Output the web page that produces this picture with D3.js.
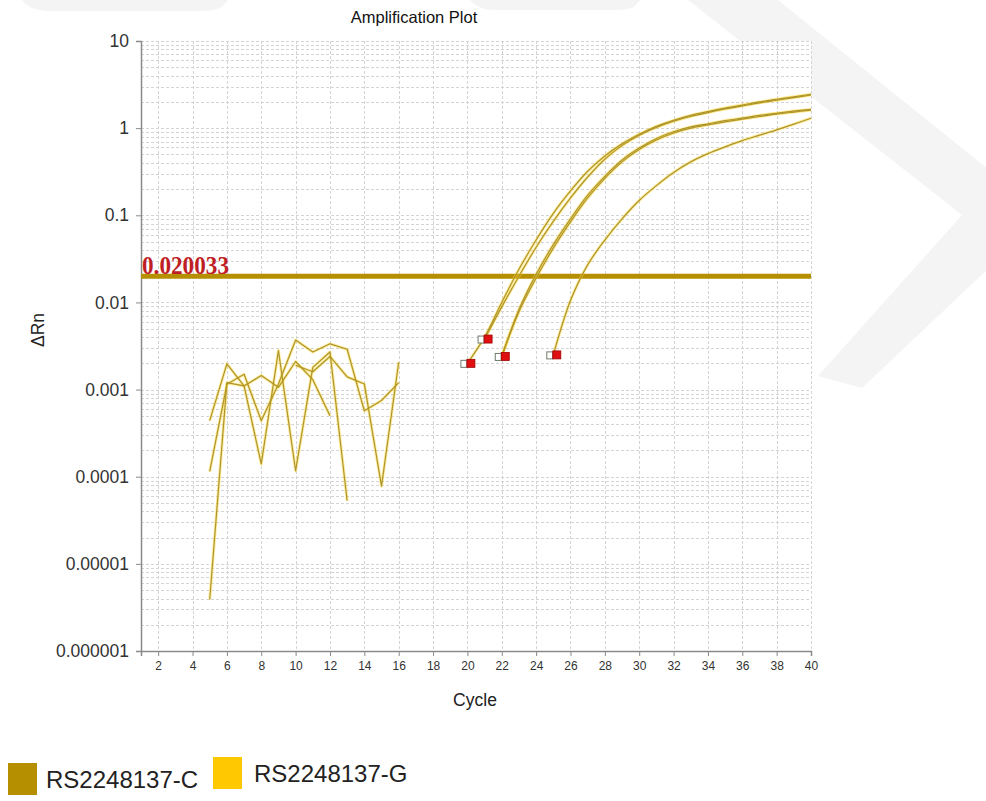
<!DOCTYPE html>
<html>
<head>
<meta charset="utf-8">
<script src="https://cdn.jsdelivr.net/npm/d3@7/dist/d3.min.js"></script>
<style>
  html, body { margin: 0; padding: 0; background: #fff; }
  svg { display: block; font-family: "Liberation Sans", Arial, sans-serif; }
</style>
</head>
<body>
<svg id="chart" width="986" height="801"></svg>
<script>
// ---- data ----
const title = "Amplification Plot";
const xLabel = "Cycle";
const yLabel = "\u0394Rn";
const threshold = 0.020033;
const thresholdLabel = "0.020033";

const xTicks = d3.range(2, 41, 2);
const yTickValues = [1e-6, 1e-5, 1e-4, 1e-3, 1e-2, 1e-1, 1, 10];
const yTickLabels = ["0.000001", "0.00001", "0.0001", "0.001", "0.01", "0.1", "1", "10"];

// amplification curves: first cycle + ΔRn per cycle
const ampStart = [20, 21, 22, 22, 25];
const ampA = [0.0020, 0.0040, 0.0100, 0.024, 0.052, 0.105, 0.19, 0.32, 0.48, 0.66, 0.85, 1.05, 1.23, 1.40, 1.55, 1.70, 1.84, 2.00, 2.14, 2.29, 2.45];
const ampB = [0.0038, 0.0089, 0.020, 0.043, 0.085, 0.158, 0.275, 0.44, 0.63, 0.83, 1.02, 1.20, 1.36, 1.51, 1.66, 1.80, 1.95, 2.09, 2.24, 2.40];
const ampC = [0.0024, 0.0083, 0.021, 0.046, 0.091, 0.17, 0.28, 0.43, 0.59, 0.76, 0.91, 1.035, 1.12, 1.22, 1.30, 1.40, 1.48, 1.57, 1.64];
const ampD = [0.0024, 0.0078, 0.019, 0.042, 0.084, 0.158, 0.265, 0.41, 0.57, 0.73, 0.88, 1.00, 1.09, 1.18, 1.27, 1.36, 1.45, 1.53, 1.61];
const ampE = [0.0025, 0.0105, 0.027, 0.052, 0.091, 0.148, 0.219, 0.31, 0.41, 0.51, 0.61, 0.72, 0.83, 0.955, 1.11, 1.30];

// background noise traces (positive ΔRn only)
const noiseStart = [5, 5, 5, 10];
const noise1 = [0.00044, 0.00197, 0.0011, 0.00014, 0.0028, 0.000117, 0.0018, 0.0027, 0.000053];
const noise2 = [0.000115, 0.00115, 0.0015, 0.00044, 0.00116, 0.0037, 0.0027, 0.00335, 0.0029, 0.00057, 0.00075, 0.0012];
const noise3 = [0.0000039, 0.0012, 0.0011, 0.00145, 0.00106, 0.0021, 0.0013, 0.0005];
const noise4 = [0.0019, 0.0016, 0.0024, 0.0014, 0.00116, 0.000078, 0.00206];

const legendNames = ["RS2248137-C", "RS2248137-G"];
const legendColors = ["#B68F00", "#FFC800"];

// ---- layout ----
const svg = d3.select("#chart");
const plot = { left: 141, right: 811, top: 41, bottom: 651 };

const x = d3.scaleLinear().domain([1, 40]).range([plot.left, plot.right]);
const y = d3.scaleLog().domain([1e-6, 10]).range([plot.bottom, plot.top]);

// faint background watermark
const wm = svg.append("g").attr("fill", "#f4f4f4");
wm.append("path").attr("d", "M688,0 L778,0 L1045,215 L862,388 L818,376 L962,215 Z");
wm.append("path").attr("d", "M22,0 L228,0 L222,7 Q215,11 200,11 L50,11 Q30,11 22,0 Z");
wm.append("path").attr("d", "M470,0 L640,0 L634,7 Q628,10 615,10 L495,10 Q478,10 470,0 Z");

// plot background
svg.append("rect")
  .attr("x", plot.left).attr("y", plot.top)
  .attr("width", plot.right - plot.left).attr("height", plot.bottom - plot.top)
  .attr("fill", "#fff");

// grid
const grid = svg.append("g").attr("stroke", "#d4d4d4").attr("stroke-width", 1)
  .attr("stroke-dasharray", "3,2").attr("shape-rendering", "crispEdges");
const minorY = [];
for (let e = -6; e <= 0; e++) for (let k = 1; k <= 9; k++) minorY.push(k * Math.pow(10, e));
minorY.push(10);
grid.selectAll("line.h").data(minorY).join("line").attr("class", "h")
  .attr("x1", plot.left).attr("x2", plot.right)
  .attr("y1", d => Math.round(y(d)) + 0.5).attr("y2", d => Math.round(y(d)) + 0.5);
grid.selectAll("line.v").data(xTicks).join("line").attr("class", "v")
  .attr("y1", plot.top).attr("y2", plot.bottom)
  .attr("x1", d => Math.round(x(d)) + 0.5).attr("x2", d => Math.round(x(d)) + 0.5);

// axes
const yAxis = svg.append("g").attr("transform", `translate(${plot.left},0)`)
  .call(d3.axisLeft(y).tickValues(yTickValues).tickSize(5).tickPadding(7)
    .tickFormat((d, i) => yTickLabels[i]));
const xAxis = svg.append("g").attr("transform", `translate(0,${plot.bottom})`)
  .call(d3.axisBottom(x).tickValues(xTicks).tickSize(5).tickPadding(5));
[yAxis, xAxis].forEach(g => {
  g.select(".domain").attr("stroke", "#8a8a8a").attr("stroke-width", 1.5);
  g.selectAll(".tick line").attr("stroke", "#8a8a8a");
  g.selectAll(".tick text").attr("fill", "#333").attr("font-family", "'Liberation Sans', Arial, sans-serif");
});
yAxis.selectAll(".tick text").attr("font-size", 17.5);
xAxis.selectAll(".tick text").attr("font-size", 12);

// threshold
svg.append("line")
  .attr("x1", plot.left).attr("x2", plot.right)
  .attr("y1", y(threshold)).attr("y2", y(threshold))
  .attr("stroke", "#B68F00").attr("stroke-width", 5);
svg.append("text")
  .attr("x", plot.left + 1).attr("y", y(threshold) - 2.5)
  .attr("font-family", "'Liberation Serif', 'Times New Roman', serif")
  .attr("font-weight", "bold").attr("font-size", 25)
  .attr("textLength", 87).attr("lengthAdjust", "spacingAndGlyphs")
  .attr("fill", "#BE1E24").text(thresholdLabel);

// traces
const line = d3.line().x(d => x(d.c)).y(d => y(d.v));
const smooth = d3.line().x(d => x(d.c)).y(d => y(d.v)).curve(d3.curveCatmullRom.alpha(0.5));
const toPts = (start, vals) => vals.map((v, i) => ({ c: start + i, v }));

const noiseSets = [noise1, noise2, noise3, noise4].map((v, i) => toPts(noiseStart[i], v));
const ampSets = [ampA, ampB, ampC, ampD, ampE].map((v, i) => toPts(ampStart[i], v));

function drawTraces(sets, gen) {
  const g = svg.append("g").attr("fill", "none").attr("stroke-linejoin", "round");
  g.selectAll("path.glow").data(sets).join("path").attr("class", "glow")
    .attr("d", gen).attr("stroke", "#FFD21A").attr("stroke-opacity", 0.45).attr("stroke-width", 3);
  g.selectAll("path.core").data(sets).join("path").attr("class", "core")
    .attr("d", gen).attr("stroke", "#AD9530").attr("stroke-width", 1.2);
}
drawTraces(noiseSets, line);
drawTraces(ampSets, smooth);

// baseline-end markers
const markers = ampSets.map(s => s[0]).filter((d, i, a) => a.findIndex(e => e.c === d.c && e.v === d.v) === i);
const mk = svg.append("g");
mk.selectAll("rect.g").data(markers).join("rect").attr("class", "g")
  .attr("x", d => x(d.c) - 6.5).attr("y", d => y(d.v) - 3)
  .attr("width", 6).attr("height", 7)
  .attr("fill", "#fff").attr("stroke", "#6f7a6a").attr("stroke-width", 1);
mk.selectAll("rect.r").data(markers).join("rect").attr("class", "r")
  .attr("x", d => x(d.c) - 0.5).attr("y", d => y(d.v) - 4)
  .attr("width", 8).attr("height", 8)
  .attr("fill", "#E01010").attr("stroke", "#A00000").attr("stroke-width", 0.8);

// titles
svg.append("text").attr("x", 414).attr("y", 23).attr("text-anchor", "middle")
  .attr("font-size", 16.5).attr("fill", "#111").text(title);
svg.append("text").attr("x", 475).attr("y", 706).attr("text-anchor", "middle")
  .attr("font-size", 17.5).attr("fill", "#222").text(xLabel);
svg.append("text").attr("transform", "translate(44,330) rotate(-90)").attr("text-anchor", "middle")
  .attr("font-size", 17.5).attr("fill", "#222").text(yLabel);

// legend
const legendPos = [{ sx: 8, sy: 763, tx: 46, ty: 788 }, { sx: 213, sy: 757, tx: 254, ty: 782 }];
const lg = svg.append("g");
legendNames.forEach((name, i) => {
  const p = legendPos[i];
  lg.append("rect").attr("x", p.sx).attr("y", p.sy).attr("width", 29).attr("height", 32)
    .attr("fill", legendColors[i]);
  lg.append("text").attr("x", p.tx).attr("y", p.ty).attr("font-size", 24)
    .attr("fill", "#222").text(name);
});
</script>
</body>
</html>
